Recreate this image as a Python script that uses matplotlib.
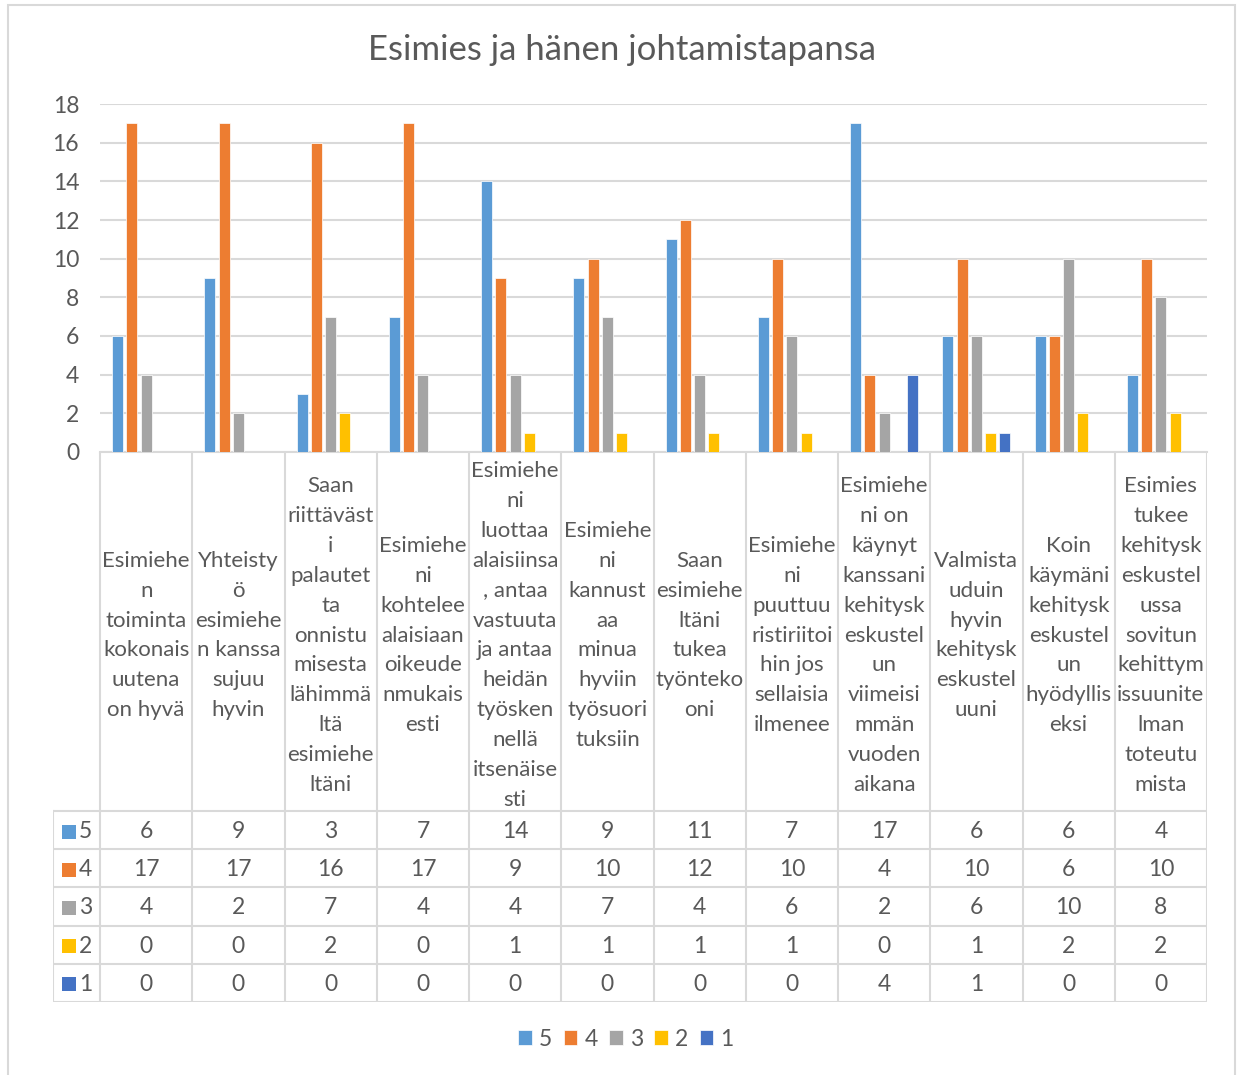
import matplotlib.pyplot as plt
from matplotlib.patches import Rectangle

plt.rcParams['font.family'] = ['Lato', 'DejaVu Sans']

# wrapped like the cells of the original table
categories = [
    "Esimiehe\nn\ntoiminta\nkokonais\nuutena\non hyvä",
    "Yhteisty\nö\nesimiehe\nn kanssa\nsujuu\nhyvin",
    "Saan\nriittäväst\ni\npalautet\nta\nonnistu\nmisesta\nlähimmä\nltä\nesimiehe\nltäni",
    "Esimiehe\nni\nkohtelee\nalaisiaan\noikeude\nnmukais\nesti",
    "Esimiehe\nni\nluottaa\nalaisiinsa\n, antaa\nvastuuta\nja antaa\nheidän\ntyösken\nnellä\nitsenäise\nsti",
    "Esimiehe\nni\nkannust\naa\nminua\nhyviin\ntyösuori\ntuksiin",
    "Saan\nesimiehe\nltäni\ntukea\ntyönteko\noni",
    "Esimiehe\nni\npuuttuu\nristiriitoi\nhin jos\nsellaisia\nilmenee",
    "Esimiehe\nni on\nkäynyt\nkanssani\nkehitysk\neskustel\nun\nviimeisi\nmmän\nvuoden\naikana",
    "Valmista\nuduin\nhyvin\nkehitysk\neskustel\nuuni",
    "Koin\nkäymäni\nkehitysk\neskustel\nun\nhyödyllis\neksi",
    "Esimies\ntukee\nkehitysk\neskustel\nussa\nsovitun\nkehittym\nissuunite\nlman\ntoteutu\nmista",
]

series_names = ["5", "4", "3", "2", "1"]
s5 = [6, 9, 3, 7, 14, 9, 11, 7, 17, 6, 6, 4]
s4 = [17, 17, 16, 17, 9, 10, 12, 10, 4, 10, 6, 10]
s3 = [4, 2, 7, 4, 4, 7, 4, 6, 2, 6, 10, 8]
s2 = [0, 0, 2, 0, 1, 1, 1, 1, 0, 1, 2, 2]
s1 = [0, 0, 0, 0, 0, 0, 0, 0, 4, 1, 0, 0]
series = [s5, s4, s3, s2, s1]
colors = ["#5B9BD5", "#ED7D31", "#A5A5A5", "#FFC000", "#4472C4"]

W, H = 1237, 1075
txt = "#595959"
grid = "#D9D9D9"

fig = plt.figure(figsize=(W / 100, H / 100), dpi=100)
fig.patches.append(Rectangle((8 / W, -0.01), (1235 - 8) / W, (H - 5) / H + 0.01,
                             transform=fig.transFigure, fill=False,
                             edgecolor=grid, linewidth=1.5))

fig.text(622 / W, 1 - 50 / H, "Esimies ja hänen johtamistapansa",
         ha="center", va="center", fontsize=25, color=txt)

# bar chart
ax = fig.add_axes([100 / W, (H - 452) / H, 1107 / W, 348 / H])
n = len(categories)
step = 0.154
bw = 0.12
for k, (vals, c) in enumerate(zip(series, colors)):
    xs = [i + 0.5 + (k - 2) * step for i in range(n)]
    ax.bar(xs, vals, width=bw, color=c, edgecolor="white", linewidth=0.5,
           label=series_names[k], zorder=3)
ax.set_xlim(0, n)
ax.set_ylim(0, 18)
ax.set_yticks(range(0, 19, 2))
ax.yaxis.grid(True, color=grid, linewidth=1.5, zorder=0)
ax.set_xticks([])
ax.tick_params(axis="y", length=0, labelsize=16.5, labelcolor=txt, pad=15)
for side in ["top", "right", "left"]:
    ax.spines[side].set_visible(False)
ax.spines["bottom"].set_color(grid)
ax.spines["bottom"].set_linewidth(1.5)

# data table
lab_w = 47 / 92.25
tab = fig.add_axes([53 / W, (H - 1002) / H, 1154 / W, 550 / H])
tab.set_xlim(-lab_w, n)
tab.set_ylim(1002, 452)
tab.axis("off")

head_bot = 811
row_h = (1002 - 811) / 5
lw = 1.5
for i in range(n + 1):
    tab.plot([i, i], [452, 1002], color=grid, lw=lw)
tab.plot([-lab_w, -lab_w], [head_bot, 1002], color=grid, lw=lw)
for r in range(6):
    y = head_bot + r * row_h
    tab.plot([-lab_w, n], [y, y], color=grid, lw=lw)

for i, cat in enumerate(categories):
    tab.text(i + 0.5, (452 + head_bot) / 2 + 4, cat, ha="center", va="center",
             fontsize=16, color=txt, linespacing=1.62)

for r, (name, vals, c) in enumerate(zip(series_names, series, colors)):
    yc = head_bot + (r + 0.5) * row_h + 1.5
    tab.add_patch(Rectangle((-lab_w + 9 / 92.25, yc - 7), 14 / 92.25, 14,
                            color=c, lw=0))
    tab.text(-lab_w + 26 / 92.25, yc, name, ha="left", va="center",
             fontsize=16.5, color=txt)
    for i, v in enumerate(vals):
        tab.text(i + 0.5, yc, str(v), ha="center", va="center",
                 fontsize=16.5, color=txt)

handles, labels = ax.get_legend_handles_labels()
fig.legend(handles, labels, loc="center", bbox_to_anchor=(626 / W, 1 - 1039 / H),
           ncol=5, frameon=False, fontsize=16.5, labelcolor=txt,
           handlelength=0.6, handleheight=0.6, handletextpad=0.3,
           columnspacing=0.5)

fig.savefig("out.png", dpi=100)
